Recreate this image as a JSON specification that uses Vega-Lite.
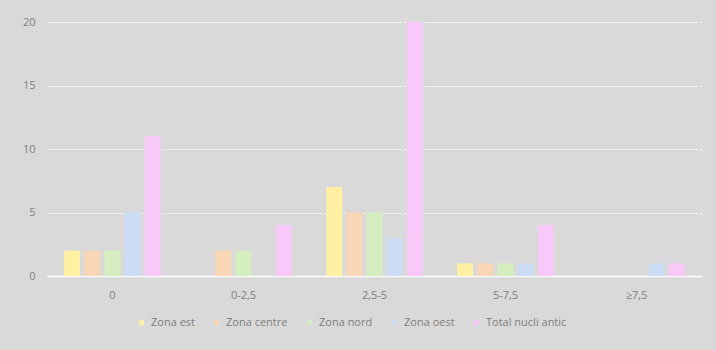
{
  "$schema": "https://vega.github.io/schema/vega-lite/v6.json",
  "width": 655,
  "height": 254,
  "autosize": {"type": "none"},
  "padding": {"left": 47, "top": 22, "right": 14, "bottom": 74},
  "background": "#d9d9d9",
  "data": {
    "values": [
      {"cat": "0", "serie": "Zona est", "v": 2},
      {"cat": "0", "serie": "Zona centre", "v": 2},
      {"cat": "0", "serie": "Zona nord", "v": 2},
      {"cat": "0", "serie": "Zona oest", "v": 5},
      {"cat": "0", "serie": "Total nucli antic", "v": 11},
      {"cat": "0-2,5", "serie": "Zona est", "v": 0},
      {"cat": "0-2,5", "serie": "Zona centre", "v": 2},
      {"cat": "0-2,5", "serie": "Zona nord", "v": 2},
      {"cat": "0-2,5", "serie": "Zona oest", "v": 0},
      {"cat": "0-2,5", "serie": "Total nucli antic", "v": 4},
      {"cat": "2,5-5", "serie": "Zona est", "v": 7},
      {"cat": "2,5-5", "serie": "Zona centre", "v": 5},
      {"cat": "2,5-5", "serie": "Zona nord", "v": 5},
      {"cat": "2,5-5", "serie": "Zona oest", "v": 3},
      {"cat": "2,5-5", "serie": "Total nucli antic", "v": 20},
      {"cat": "5-7,5", "serie": "Zona est", "v": 1},
      {"cat": "5-7,5", "serie": "Zona centre", "v": 1},
      {"cat": "5-7,5", "serie": "Zona nord", "v": 1},
      {"cat": "5-7,5", "serie": "Zona oest", "v": 1},
      {"cat": "5-7,5", "serie": "Total nucli antic", "v": 4},
      {"cat": "≥7,5", "serie": "Zona est", "v": 0},
      {"cat": "≥7,5", "serie": "Zona centre", "v": 0},
      {"cat": "≥7,5", "serie": "Zona nord", "v": 0},
      {"cat": "≥7,5", "serie": "Zona oest", "v": 1},
      {"cat": "≥7,5", "serie": "Total nucli antic", "v": 1}
    ]
  },
  "config": {
    "view": {"stroke": null},
    "font": "Open Sans",
    "axis": {"labelColor": "#7f7f7f", "labelFont": "Open Sans", "labelFontSize": 11, "ticks": false, "title": null}
  },
  "mark": {"type": "bar", "width": 16},
  "encoding": {
    "x": {
      "field": "cat", "type": "nominal", "sort": null,
      "scale": {"paddingInner": 0, "paddingOuter": 0},
      "axis": {"labelAngle": 0, "domainColor": "#ffffff", "domainWidth": 1.5, "labelPadding": 13, "grid": false}
    },
    "xOffset": {
      "field": "serie", "type": "nominal",
      "sort": ["Zona est", "Zona centre", "Zona nord", "Zona oest", "Total nucli antic"],
      "scale": {"paddingOuter": 0.75, "paddingInner": 0}
    },
    "y": {
      "field": "v", "type": "quantitative",
      "scale": {"domain": [0, 20]},
      "axis": {"values": [0, 5, 10, 15, 20], "domain": false, "gridColor": "#ffffff", "gridDash": [2, 2], "gridWidth": 1, "labelPadding": 12}
    },
    "color": {
      "field": "serie", "type": "nominal",
      "sort": ["Zona est", "Zona centre", "Zona nord", "Zona oest", "Total nucli antic"],
      "scale": {
        "domain": ["Zona est", "Zona centre", "Zona nord", "Zona oest", "Total nucli antic"],
        "range": ["#fff0a4", "#f9d6b6", "#d5eec0", "#cbdcf4", "#f8c9f8"]
      },
      "legend": {
        "orient": "none", "legendX": 89, "legendY": 295,
        "direction": "horizontal", "title": null,
        "labelColor": "#7f7f7f", "labelFontSize": 11, "symbolType": "square", "symbolSize": 25,
        "labelOffset": 4, "columnPadding": 16
      }
    }
  }
}
